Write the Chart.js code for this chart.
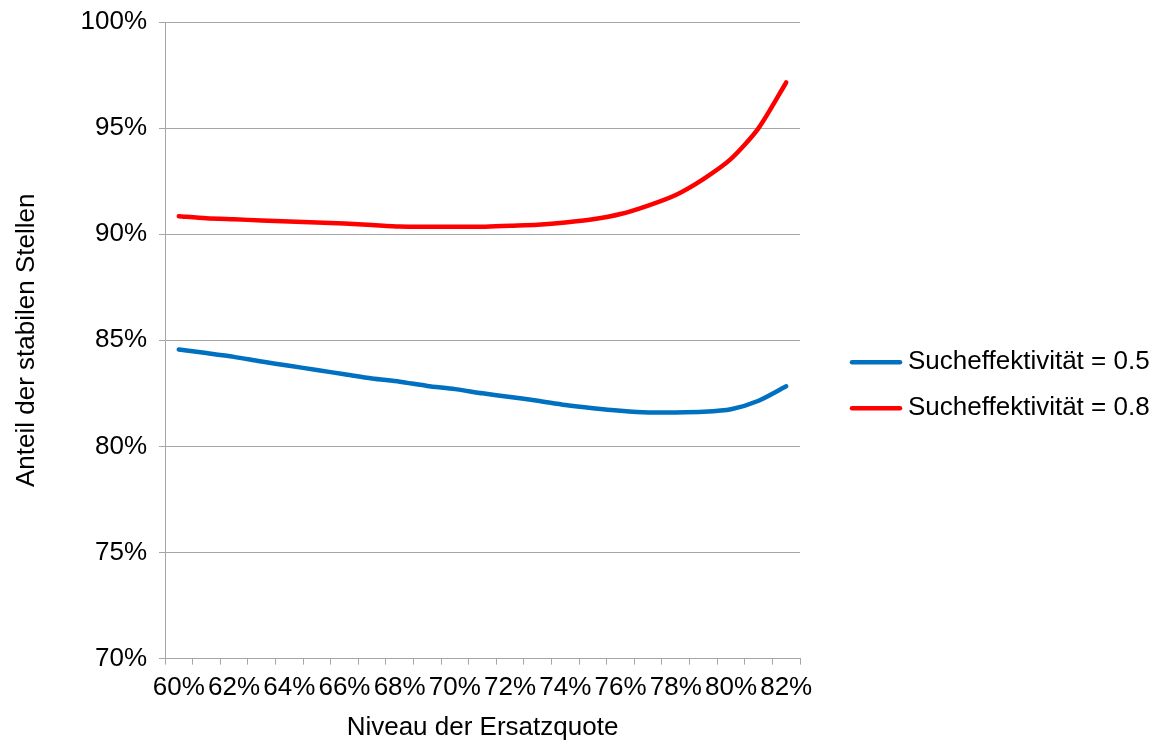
<!DOCTYPE html>
<html lang="de">
<head>
<meta charset="utf-8">
<title>Anteil der stabilen Stellen</title>
<script src="https://cdn.jsdelivr.net/npm/chart.js@4.4.1/dist/chart.umd.min.js"></script>
<style>
    html, body { margin: 0; padding: 0; background: #fff; }
    #wrap { width: 1161px; height: 743px; }
</style>
</head>
<body>
<div id="wrap"><canvas id="stellenChart" width="1161" height="743"></canvas></div>
<script>
// Niveau der Ersatzquote (x categories)
const quoteLabels = ['60%', '61%', '62%', '63%', '64%', '65%', '66%', '67%', '68%', '69%', '70%', '71%',
    '72%', '73%', '74%', '75%', '76%', '77%', '78%', '79%', '80%', '81%', '82%'];

// Anteil der stabilen Stellen in %
const effektivitaet05 = [84.57, 84.4, 84.22, 84.0, 83.8, 83.6, 83.4, 83.2, 83.05, 82.85, 82.7, 82.5,
    82.33, 82.15, 81.95, 81.8, 81.68, 81.6, 81.6, 81.63, 81.75, 82.15, 82.83];
const effektivitaet08 = [90.85, 90.75, 90.7, 90.65, 90.6, 90.55, 90.5, 90.43, 90.36, 90.35, 90.35, 90.35,
    90.4, 90.45, 90.55, 90.7, 90.95, 91.35, 91.85, 92.6, 93.55, 95.0, 97.15];

const seriesNames = ['Sucheffektivität = 0.5', 'Sucheffektivität = 0.8'];
const yTicks = [70, 75, 80, 85, 90, 95, 100];

const fontFamily = '"Liberation Sans", Arial, sans-serif';
const gridGray = '#a6a6a6';

// legend drawn next to the plot, line sample + text
const sideLegend = {
    id: 'sideLegend',
    afterDraw(chart) {
        const ctx = chart.ctx;
        const area = chart.chartArea;
        const x0 = area.right + 50;
        let y = (area.top + area.bottom) / 2 + 22;
        ctx.save();
        ctx.font = '26px ' + fontFamily;
        ctx.textBaseline = 'middle';
        ctx.textAlign = 'left';
        chart.data.datasets.forEach(ds => {
            ctx.strokeStyle = ds.borderColor;
            ctx.lineWidth = 4.5;
            ctx.lineCap = 'round';
            ctx.beginPath();
            ctx.moveTo(x0 + 2, y);
            ctx.lineTo(x0 + 50, y);
            ctx.stroke();
            ctx.fillStyle = '#000';
            ctx.fillText(ds.label, x0 + 58, y);
            y += 46;
        });
        ctx.restore();
    }
};

const ctx = document.getElementById('stellenChart').getContext('2d');

new Chart(ctx, {
    type: 'line',
    data: {
        labels: quoteLabels,
        datasets: [
            {
                label: seriesNames[0],
                data: effektivitaet05,
                borderColor: '#0070c0',
                backgroundColor: '#0070c0',
                borderWidth: 4.5,
                borderCapStyle: 'round',
                borderJoinStyle: 'round',
                pointRadius: 0,
                tension: 0.25,
                fill: false
            },
            {
                label: seriesNames[1],
                data: effektivitaet08,
                borderColor: '#ff0000',
                backgroundColor: '#ff0000',
                borderWidth: 4.5,
                borderCapStyle: 'round',
                borderJoinStyle: 'round',
                pointRadius: 0,
                tension: 0.25,
                fill: false
            }
        ]
    },
    options: {
        responsive: false,
        animation: false,
        devicePixelRatio: 1,
        layout: {
            padding: { top: 22, right: 361, bottom: 0, left: 0 }
        },
        plugins: {
            legend: { display: false },
            tooltip: { enabled: false }
        },
        scales: {
            x: {
                type: 'category',
                offset: true,
                grid: {
                    offset: true,
                    drawOnChartArea: false,
                    color: gridGray,
                    tickLength: 6
                },
                border: { color: gridGray, width: 1 },
                ticks: {
                    autoSkip: false,
                    maxRotation: 0,
                    minRotation: 0,
                    padding: 8,
                    color: '#000',
                    font: { family: fontFamily, size: 26 },
                    callback: function (value, index) {
                        return index % 2 === 0 ? this.getLabelForValue(value) : '';
                    }
                },
                title: {
                    display: true,
                    text: 'Niveau der Ersatzquote',
                    color: '#000',
                    padding: { top: 0, bottom: 0 },
                    font: { family: fontFamily, size: 26 }
                }
            },
            y: {
                min: 70,
                max: 100,
                afterFit: function (scale) {
                    scale.width = 165;
                    scale.paddingTop = 0;
                },
                afterBuildTicks: function (scale) {
                    scale.ticks = yTicks.map(v => ({ value: v }));
                },
                grid: {
                    color: gridGray,
                    tickLength: 6
                },
                border: { color: gridGray, width: 1 },
                ticks: {
                    padding: 12,
                    color: '#000',
                    font: { family: fontFamily, size: 26 },
                    callback: function (value) {
                        return value + '%';
                    }
                },
                title: {
                    display: true,
                    text: 'Anteil der stabilen Stellen',
                    color: '#000',
                    padding: { top: 11, bottom: 0 },
                    font: { family: fontFamily, size: 26 }
                }
            }
        }
    },
    plugins: [sideLegend]
});
</script>
</body>
</html>
